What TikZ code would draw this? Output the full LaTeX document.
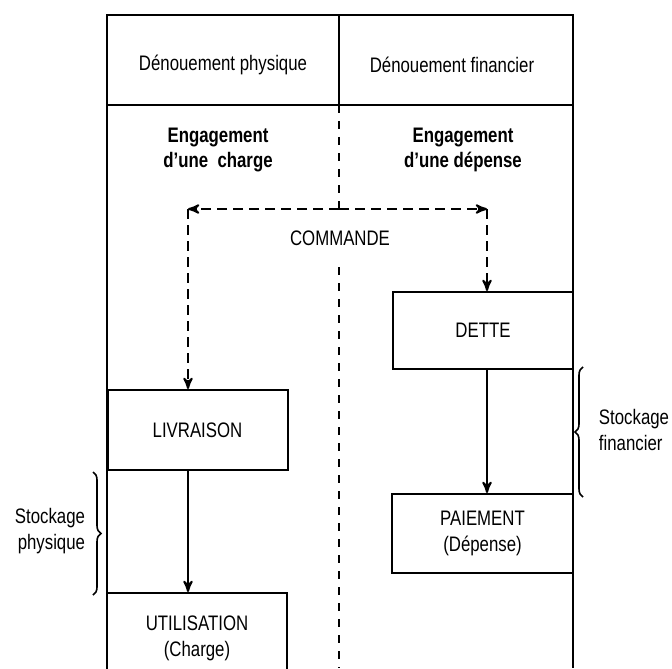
\documentclass[tikz,border=0pt]{standalone}
\usepackage{fontspec}
\setmainfont{Liberation Sans}[FakeStretch=0.8]
\usepackage{tikz}
\usetikzlibrary{positioning, arrows, decorations.pathreplacing}

\begin{document}
\begin{tikzpicture}[x=0.5pt, y=-0.5pt, >=stealth', line width=1pt,
	every node/.style={font=\fontsize{10.5}{13}\selectfont, align=center},
	box/.style={draw, inner sep=0pt, minimum width=90pt},
	cmddash/.style={dash pattern=on 5pt off 3pt},
	middash/.style={dash pattern=on 4pt off 4pt},
	head/.style={font=\fontsize{10.5}{12.5}\selectfont\bfseries},
	stock/.style={decorate, decoration={brace, amplitude=4pt}, line width=0.8pt}]
	\useasboundingbox (0,0) rectangle (672,668);
	\clip (0,0) rectangle (672,668);
	
	% cadre
	\draw (107,668) -- (107,15) -- (573,15) -- (573,668);
	\draw (107,105) -- (573,105);
	\draw (339,15) -- (339,105);
	
	\node (hdrL) at (223,65) {Dénouement physique};
	\node (hdrR) at (452,65) {Dénouement financier};
	\node[head] (engL) at (218,150) {Engagement\\d'une\ \ charge};
	\node[head] (engR) at (463,150) {Engagement\\d'une dépense};
	\node (cmd) at (340,238) {COMMANDE};
	
	\node[box, minimum height=40pt] (livr) at (197.5,430) {LIVRAISON};
	\node[box, minimum height=45pt] (util) at (197,638) {UTILISATION\\(Charge)};
	\node[box, minimum height=38.5pt] (dette) at (483,330.5) {DETTE};
	\node[box, minimum height=39.5pt, minimum width=90.5pt] (paie) at (482.5,533.5) {PAIEMENT\\(Dépense)};
	
	\node[align=right] (stockP) at (50,531) {Stockage\\physique};
	\node[align=left] (stockF) at (634,430) {Stockage\\financier};
	
	\coordinate (ctop) at (339,105);
	\coordinate (j) at (339,209);
	\coordinate (cL) at (188,209);
	\coordinate (cR) at (487,209);
	\coordinate (cmid) at (339,267);
	\coordinate (cbot) at (339,668);
	
	% commande
	\draw[middash] (ctop) -- (j);
	\draw[middash] (cmid) -- (cbot);
	\draw[cmddash, ->] (j) -- (cL);
	\draw[cmddash, ->] (j) -- (cR);
	\draw[cmddash, ->] (cL) -- (cL |- livr.north);
	\draw[cmddash, ->] (cR) -- (cR |- dette.north);
	
	\draw[->] (livr.south -| cL) -- (util.north -| cL);
	\draw[->] (dette.south -| cR) -- (paie.north -| cR);
	
	% accolades
	\coordinate (bPa) at (93,472);
	\coordinate (bPb) at (93,595);
	\coordinate (bFa) at (583,497);
	\coordinate (bFb) at (583,367);
	\draw[stock] (bPa) -- (bPb);
	\draw[stock] (bFa) -- (bFb);
	
\end{tikzpicture}
\end{document}
